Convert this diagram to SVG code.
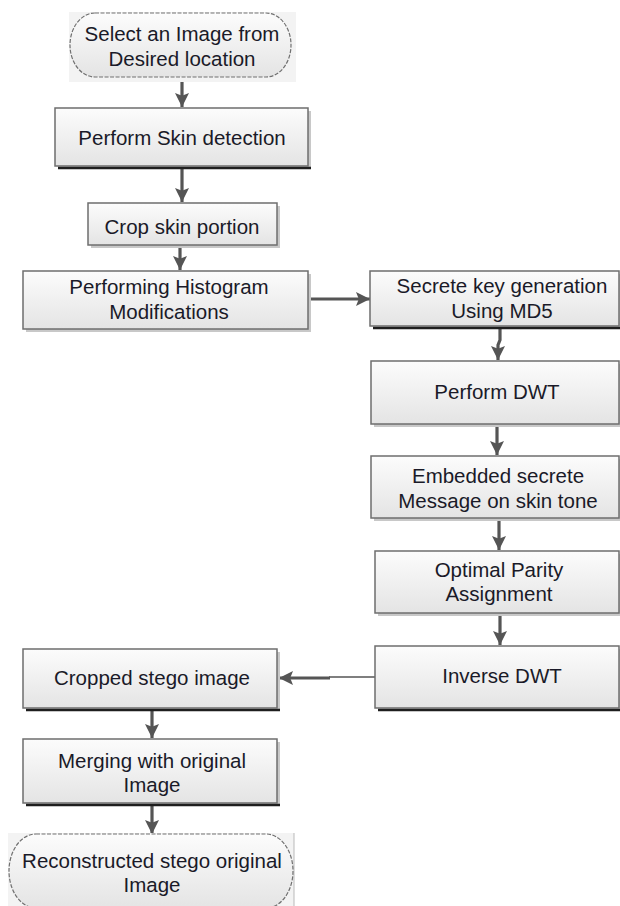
<svg xmlns="http://www.w3.org/2000/svg" width="620" height="906" viewBox="0 0 620 906">
<style>
.box{fill:url(#g);stroke:#6e6e6e;stroke-width:1.5}
.term{fill:url(#g);stroke:#707070;stroke-width:1.2;stroke-dasharray:4 1.5}
.bg{fill:#f3f3f3}
.sh{fill:#c8c8c8}
.shd{stroke:#1e1e1e;stroke-width:2.5;fill:none}
.t{font-family:"Liberation Sans",Arial,sans-serif;font-size:20.5px;fill:#1a1a28;text-anchor:middle}
.c{stroke:#555;stroke-width:3.2;fill:none;marker-end:url(#ah)}
.thin{stroke:#555;stroke-width:1.4;fill:none}
</style>
<defs>
<linearGradient id="g" x1="0" y1="0" x2="0" y2="1">
<stop offset="0" stop-color="#fcfcfc"/>
<stop offset="1" stop-color="#e4e4e4"/>
</linearGradient>
<marker id="ah" markerUnits="userSpaceOnUse" markerWidth="14" markerHeight="14" viewBox="0 0 10 10" refX="10" refY="5" orient="auto">
<path d="M0,0 L10,5 L0,10 L2,5 Z" fill="#555"/>
</marker>
</defs>
<rect width="620" height="906" fill="#fff"/>
<g id="connectors">
<line class="c" x1="182" y1="78" x2="182" y2="107"/>
<line class="c" x1="182" y1="168" x2="182" y2="202"/>
<line class="c" x1="180" y1="246" x2="180" y2="270"/>
<line class="c" x1="309" y1="299" x2="370" y2="299"/>
<polyline class="c" points="500,328 500,340 498,345 498,360"/>
<line class="c" x1="497" y1="425" x2="497" y2="455"/>
<line class="c" x1="499" y1="519" x2="499" y2="550"/>
<line class="c" x1="500" y1="614" x2="500" y2="645"/>
<line class="thin" x1="375" y1="677" x2="329" y2="677"/>
<line class="c" x1="330" y1="678" x2="279" y2="678"/>
<line class="c" x1="152" y1="710" x2="152" y2="738"/>
<line class="c" x1="152" y1="805" x2="152" y2="834"/>
</g>
<g id="n1">
<rect class="bg" x="69" y="12" width="227" height="70"/>
<path class="term" d="M95,13 H266 A25,32 0 0 1 266,77 H95 A25,32 0 0 1 95,13 Z"/>
<text class="t" x="182" y="41">Select an Image from</text>
<text class="t" x="182" y="66">Desired location</text>
</g>
<g id="n2">
<rect class="sh" x="58" y="111" width="253" height="58"/>
<line class="shd" x1="58" y1="168" x2="311" y2="168"/>
<rect class="box" x="55" y="108" width="253" height="58"/>
<text class="t" x="182" y="145">Perform Skin detection</text>
</g>
<g id="n3">
<rect class="sh" x="91" y="206" width="189" height="42"/>
<rect class="box" x="88" y="203" width="189" height="42"/>
<text class="t" x="182" y="234">Crop skin portion</text>
</g>
<g id="n4">
<rect class="sh" x="26" y="274" width="285" height="58"/>
<rect class="box" x="23" y="271" width="285" height="58"/>
<text class="t" x="169" y="294">Performing Histogram</text>
<text class="t" x="169" y="319">Modifications</text>
</g>
<g id="n5">
<rect class="sh" x="373" y="274" width="249" height="55"/>
<line class="shd" x1="373" y1="328" x2="622" y2="328"/>
<rect class="box" x="370" y="271" width="249" height="55"/>
<text class="t" x="502" y="293">Secrete key generation</text>
<text class="t" x="502" y="318">Using MD5</text>
</g>
<g id="n6">
<rect class="sh" x="374" y="364" width="248" height="63"/>
<rect class="box" x="371" y="361" width="248" height="63"/>
<text class="t" x="497" y="399">Perform DWT</text>
</g>
<g id="n7">
<rect class="sh" x="374" y="459" width="248" height="62"/>
<rect class="box" x="371" y="456" width="248" height="62"/>
<text class="t" x="498" y="483">Embedded secrete</text>
<text class="t" x="498" y="508">Message on skin tone</text>
</g>
<g id="n8">
<rect class="sh" x="378" y="554" width="244" height="62"/>
<rect class="box" x="375" y="551" width="244" height="62"/>
<text class="t" x="499" y="577">Optimal Parity</text>
<text class="t" x="499" y="601">Assignment</text>
</g>
<g id="n9">
<rect class="sh" x="378" y="649" width="244" height="62"/>
<line class="shd" x1="378" y1="710" x2="622" y2="710"/>
<rect class="box" x="375" y="646" width="244" height="62"/>
<text class="t" x="502" y="683">Inverse DWT</text>
</g>
<g id="n10">
<rect class="sh" x="26" y="652" width="254" height="59"/>
<line class="shd" x1="26" y1="710" x2="280" y2="710"/>
<rect class="box" x="23" y="649" width="254" height="59"/>
<text class="t" x="152" y="685">Cropped stego image</text>
</g>
<g id="n11">
<rect class="sh" x="26" y="742" width="254" height="64"/>
<line class="shd" x1="26" y1="805" x2="280" y2="805"/>
<rect class="box" x="23" y="739" width="254" height="64"/>
<text class="t" x="152" y="768">Merging with original</text>
<text class="t" x="152" y="792">Image</text>
</g>
<g id="n12">
<rect class="bg" x="8" y="833" width="286" height="75"/>
<line x1="294" y1="833" x2="294" y2="906" stroke="#c4c4c4" stroke-width="1.2"/>
<path class="term" d="M36,834 H266 A27,37 0 0 1 266,908 H36 A27,37 0 0 1 36,834 Z"/>
<text class="t" x="152" y="868">Reconstructed stego original</text>
<text class="t" x="152" y="892">Image</text>
</g>
</svg>
